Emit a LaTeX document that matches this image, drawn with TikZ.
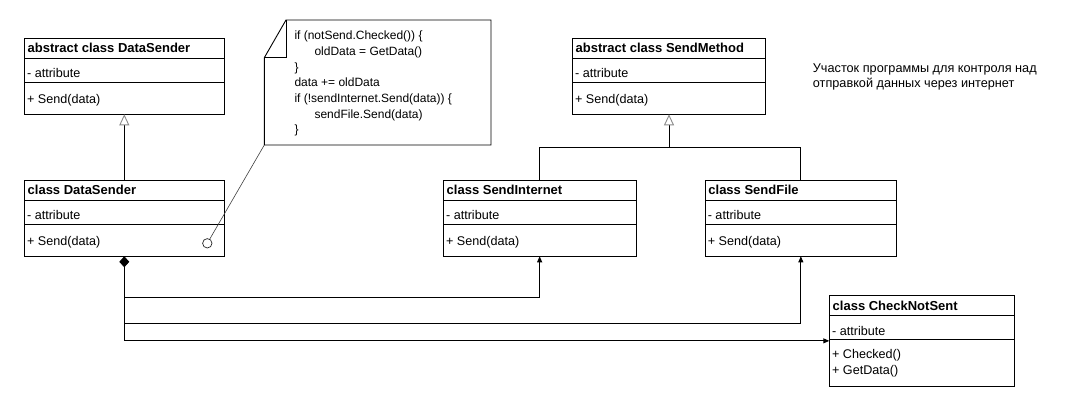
\documentclass[tikz,border=0pt]{standalone}
\usepackage{fontspec}
\setmainfont{Liberation Sans}
\usetikzlibrary{arrows.meta,calc}
\tikzset{
  clsbox/.style={draw, line width=0.9pt, rectangle, inner sep=0pt, outer sep=0pt, anchor=north west, fill=white},
  sepline/.style={line width=0.9pt},
  hdr/.style={font=\fontsize{13}{15}\selectfont\bfseries, inner sep=0pt, anchor=base west},
  txt/.style={font=\fontsize{12.6}{15}\selectfont, inner sep=0pt, anchor=base west},
  desctxt/.style={font=\fontsize{12.7}{15}\selectfont, inner sep=0pt, anchor=base west},
  notetxt/.style={font=\fontsize{12}{15}\selectfont, inner sep=0pt, anchor=base west},
  inherit/.style={line width=0.9pt, -{Triangle[open, length=11pt, width=10pt, color=black!45]}},
  assoc/.style={line width=0.9pt, -{Triangle[length=6pt, width=5pt]}},
  comp/.style={line width=0.9pt, {Diamond[length=11pt, width=10pt]}-{Triangle[length=6pt, width=5pt]}},
  plainline/.style={line width=0.9pt},
  noteline/.style={line width=0.6pt, black!75},
}
% #1 name, #2 x, #3 y, #4 width, #5 height, #6 title, #7 attribute, #8 operation, #9 op baseline offset
\newcommand{\umlcls}[9]{%
  \node[clsbox, minimum width=#4pt, minimum height=#5pt] (#1) at (#2,#3) {};
  \draw[sepline] ($(#1.north west)+(0,20)$) -- ($(#1.north east)+(0,20)$);
  \draw[sepline] ($(#1.north west)+(0,44)$) -- ($(#1.north east)+(0,44)$);
  \node[hdr] (#1-title) at ($(#1.north west)+(3.2,14.5)$) {#6};
  \node[txt] (#1-attr) at ($(#1.north west)+(2.6,39.5)$) {#7};
  \node[txt] (#1-op) at ($(#1.north west)+(2.6,#9)$) {#8};
}
\begin{document}
\begin{tikzpicture}[x=1pt, y=-1pt]
\useasboundingbox[fill=white] (0,0) rectangle (1065,416);

% classes
\umlcls{ads}{24.3}{38.3}{200}{76}{abstract class DataSender}{- attribute}{+ Send(data)}{65.3}
\umlcls{dsc}{24.3}{180.3}{200}{76}{class DataSender}{- attribute}{+ Send(data)}{65.3}
\umlcls{asm}{572.3}{38.3}{193.4}{76}{abstract class SendMethod}{- attribute}{+ Send(data)}{65.3}
\umlcls{si}{443.3}{180.3}{192.7}{76}{class SendInternet}{- attribute}{+ Send(data)}{65.3}
\umlcls{sf}{705}{180.3}{191.7}{76}{class SendFile}{- attribute}{+ Send(data)}{65.3}
\umlcls{cns}{829.3}{295.7}{185}{90.3}{class CheckNotSent}{- attribute}{+ Checked()}{63}
\node[txt] (cns-op2) at ($(cns.north west)+(2.6,79)$) {+ GetData()};

% note
\node[minimum width=226.7pt, minimum height=125pt, inner sep=0pt, outer sep=0pt, anchor=north west] (note) at (264.3,20) {};
\coordinate (fold) at ($(note.north west)+(21.7,0)$);
\coordinate (foldb) at ($(note.north west)+(21.7,37.7)$);
\coordinate (foldl) at ($(note.north west)+(0,37.7)$);
\draw[plainline, line join=miter] (foldl) -- (fold) -- (note.north east) -- (note.south east) -- (note.south west) -- cycle;
\draw[plainline] (fold) -- (foldb) -- (foldl);
\node[notetxt] (n1) at (294.3,39.5) {if (notSend.Checked()) \{};
\node[notetxt] (n2) at (314.3,55.3) {oldData = GetData()};
\node[notetxt] (n3) at (294.3,71) {\}};
\node[notetxt] (n4) at (294.3,86.2) {data += oldData};
\node[notetxt] (n5) at (294.3,102) {if (!sendInternet.Send(data)) \{};
\node[notetxt] (n6) at (314.3,118) {sendFile.Send(data)};
\node[notetxt] (n7) at (294.3,133.8) {\}};

% note anchor circle
\node[circle, draw=black!85, line width=0.7pt, minimum size=9.4pt, inner sep=0pt] (pin) at (207.3,243.3) {};
\draw[noteline] (note.south west) -- (pin);

% description
\node[desctxt] (d1) at (812.7,72.5) {Участок программы для контроля над};
\node[desctxt] (d2) at (812.7,87.5) {отправкой данных через интернет};

% inheritance
\draw[inherit] (dsc.north) -- (ads.south);
\coordinate (j3) at ($(asm.south)+(0,33.5)$);
\draw[plainline] (si.north) |- (j3) -| (sf.north);
\draw[inherit] (j3) -- (asm.south);

% composition / associations
\draw[comp] (dsc.south) |- (cns.west);
\coordinate (j1) at ($(dsc.south)+(0,41)$);
\coordinate (j2) at ($(dsc.south)+(0,67)$);
\draw[assoc] (j1) -| (si.south);
\draw[assoc] (j2) -| (sf.south);
\end{tikzpicture}
\end{document}
